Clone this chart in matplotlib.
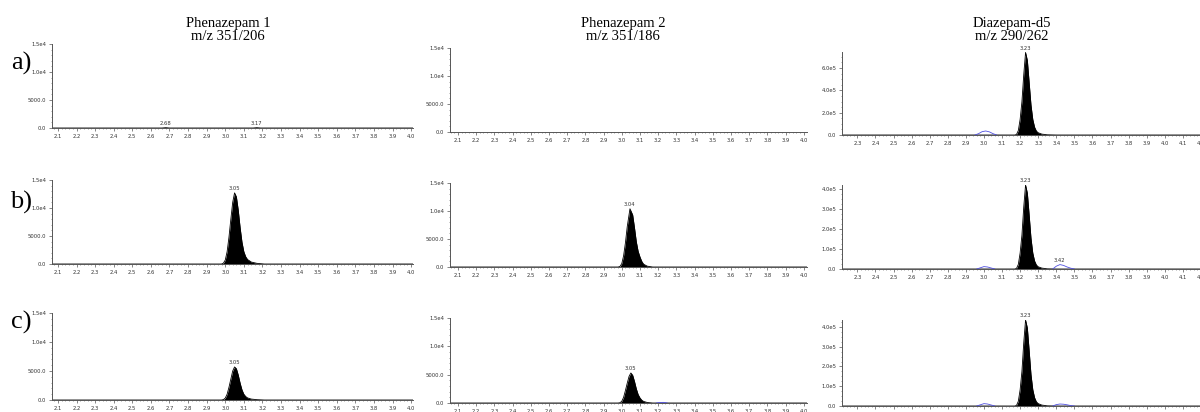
import matplotlib
matplotlib.use('Agg')
import matplotlib.pyplot as plt
from matplotlib.ticker import MultipleLocator, FixedLocator
import numpy as np

W, H = 1200, 412

titles = ['Phenazepam 1\nm/z 351/206', 'Phenazepam 2\nm/z 351/186', 'Diazepam-d5\nm/z 290/262']
row_labels = ['a)', 'b)', 'c)']

# Phenazepam 1 (m/z 351/206), retention time (min) / intensity
ph1_a_t = [2.05, 2.66, 2.68, 2.70, 3.15, 3.17, 3.19, 4.05]
ph1_a_y = [0, 0, 60, 0, 0, 60, 0, 0]
ph1_b_t = [2.05, 2.98, 2.99, 3.00, 3.01, 3.02, 3.03, 3.04, 3.05, 3.06, 3.07, 3.08, 3.09, 3.10, 3.11, 3.12, 3.14, 3.17, 3.21, 4.05]
ph1_b_y = [0, 0, 150, 700, 2200, 4800, 8000, 11000, 12700, 12000, 9600, 6500, 3900, 2200, 1300, 800, 350, 120, 0, 0]
ph1_c_t = ph1_b_t
ph1_c_y = [0, 0, 70, 320, 1000, 2200, 3600, 5000, 5700, 5400, 4300, 2900, 1750, 1000, 600, 360, 160, 60, 0, 0]

# Phenazepam 2 (m/z 351/186)
ph2_a_t = [2.05, 4.05]
ph2_a_y = [0, 0]
ph2_b_t = [2.05, 2.98, 2.99, 3.00, 3.01, 3.02, 3.03, 3.045, 3.06, 3.07, 3.08, 3.09, 3.10, 3.11, 3.12, 3.14, 3.17, 4.05]
ph2_b_y = [0, 0, 100, 600, 2000, 4300, 7200, 10400, 9300, 7000, 4500, 2800, 1800, 1000, 500, 150, 0, 0]
ph2_c_t = [2.05, 2.98, 2.99, 3.00, 3.01, 3.02, 3.03, 3.04, 3.05, 3.06, 3.07, 3.08, 3.09, 3.10, 3.11, 3.12, 3.14, 3.17, 4.05]
ph2_c_y = [0, 0, 50, 300, 1000, 2200, 3500, 4700, 5300, 4900, 3800, 2500, 1500, 900, 500, 280, 90, 0, 0]
ph2_c_blue_t = [3.19, 3.21, 3.23, 3.25]
ph2_c_blue_y = [0, 90, 110, 0]

# Diazepam-d5 (m/z 290/262)
dz_t = [2.2, 3.17, 3.18, 3.19, 3.20, 3.21, 3.22, 3.23, 3.24, 3.25, 3.26, 3.27, 3.28, 3.29, 3.30, 3.32, 3.35, 3.40, 4.3]
dz_a_y = [0, 0, 5e3, 4e4, 1.4e5, 3.0e5, 5.4e5, 7.4e5, 6.7e5, 4.7e5, 2.7e5, 1.4e5, 7e4, 3.5e4, 2e4, 8e3, 2e3, 0, 0]
dz_b_y = [0, 0, 3e3, 2.3e4, 8e4, 1.7e5, 3.1e5, 4.2e5, 3.8e5, 2.7e5, 1.55e5, 8e4, 4e4, 2e4, 1.1e4, 4.5e3, 1e3, 0, 0]
dz_c_y = [0, 0, 3e3, 2.4e4, 8.2e4, 1.76e5, 3.2e5, 4.35e5, 3.95e5, 2.8e5, 1.6e5, 8.3e4, 4.2e4, 2.1e4, 1.2e4, 4.7e3, 1e3, 0, 0]
# second trace (blue), nan splits the separate bumps
dz_a_blue_t = [2.95, 2.97, 2.99, 3.01, 3.03, 3.05, 3.07]
dz_a_blue_y = [0, 1.2e4, 3.0e4, 3.6e4, 2.8e4, 1.2e4, 0]
dz_b_blue_t = [2.96, 2.98, 3.00, 3.02, 3.04, 3.06, 3.2, 3.38, 3.40, 3.42, 3.44, 3.46, 3.48, 3.50]
dz_b_blue_y = [0, 6e3, 1.2e4, 1.0e4, 5e3, 0, np.nan, 0, 1.4e4, 2.2e4, 1.8e4, 1.0e4, 4e3, 0]
dz_c_blue_y = [0, 6e3, 1.2e4, 1.0e4, 5e3, 0, np.nan, 0, 7e3, 1.0e4, 9e3, 6e3, 2e3, 0]

# peak labels (time, text) per panel
labels = {
    (0, 0): [(2.68, '2.68'), (3.17, '3.17')],
    (1, 0): [(3.05, '3.05')],
    (2, 0): [(3.05, '3.05')],
    (1, 1): [(3.04, '3.04')],
    (2, 1): [(3.05, '3.05')],
    (0, 2): [(3.23, '3.23')],
    (1, 2): [(3.23, '3.23'), (3.42, '3.42')],
    (2, 2): [(3.23, '3.23')],
}

black = {
    (0, 0): (ph1_a_t, ph1_a_y), (1, 0): (ph1_b_t, ph1_b_y), (2, 0): (ph1_c_t, ph1_c_y),
    (0, 1): (ph2_a_t, ph2_a_y), (1, 1): (ph2_b_t, ph2_b_y), (2, 1): (ph2_c_t, ph2_c_y),
    (0, 2): (dz_t, dz_a_y), (1, 2): (dz_t, dz_b_y), (2, 2): (dz_t, dz_c_y),
}
blue = {
    (2, 1): (ph2_c_blue_t, ph2_c_blue_y),
    (0, 2): (dz_a_blue_t, dz_a_blue_y),
    (1, 2): (dz_b_blue_t, dz_b_blue_y),
    (2, 2): (dz_b_blue_t, dz_c_blue_y),
}

# column pixel extents and x limits
col_px = [(52, 413), (450, 807), (842, 1210)]
col_xlim = [(2.068, 4.01), (2.056, 4.018), (2.215, 4.25)]
# panel (top px, zero px, ymax)
row_px = {
    (0, 0): (44, 128, 1.5e4), (0, 1): (48, 132, 1.5e4), (0, 2): (52, 135, 7.44e5),
    (1, 0): (180, 264, 1.5e4), (1, 1): (183, 267, 1.5e4), (1, 2): (185, 269, 4.2e5),
    (2, 0): (313, 400, 1.5e4), (2, 1): (318, 403, 1.5e4), (2, 2): (320, 406, 4.35e5),
}

fig = plt.figure(figsize=(W / 100, H / 100), dpi=100)
fig.patch.set_facecolor('white')

axis_col = '#555555'
for (r, c), (top, zero, ymax) in row_px.items():
    x0, x1 = col_px[c]
    ax = fig.add_axes([x0 / W, 1 - zero / H, (x1 - x0) / W, (zero - top) / H])
    ax.set_xlim(col_xlim[c])
    ax.set_ylim(0, ymax)
    ax.patch.set_alpha(0)
    for s in ['top', 'right']:
        ax.spines[s].set_visible(False)
    for s in ['left', 'bottom']:
        ax.spines[s].set_color(axis_col)
        ax.spines[s].set_linewidth(0.7)

    t, y = black[(r, c)]
    ax.fill_between(t, y, color='black', lw=0)
    ax.plot(t, y, color='black', lw=0.6)
    if (r, c) in blue:
        bt, by = blue[(r, c)]
        ax.plot(bt, by, color='#5050e0', lw=0.6)

    for pt, txt in labels.get((r, c), []):
        ymax_here = max([yy for tt, yy in zip(t, y) if abs(tt - pt) < 0.03] + [0])
        if txt == '3.42':
            bt, by = blue[(r, c)]
            ymax_here = np.nanmax(by)
        ax.text(pt, ymax_here + ymax * 0.02, txt, ha='center', va='bottom',
                fontsize=3.8, color='#333333')

    # ticks
    xt = np.round(np.arange(2.1, col_xlim[c][1] + 0.001, 0.1), 1)
    if c == 2:
        xt = np.round(np.arange(2.3, 4.25, 0.1), 1)
    ax.xaxis.set_major_locator(FixedLocator(xt))
    ax.set_xticklabels(['%.1f' % v for v in xt])
    ax.xaxis.set_minor_locator(MultipleLocator(0.02))
    if c < 2:
        yt = [0, 5000, 10000, 15000]
        ylab = ['0.0', '5000.0', '1.0e4', '1.5e4']
        ax.yaxis.set_minor_locator(MultipleLocator(1000))
    elif r == 0:
        yt = [0, 2e5, 4e5, 6e5]
        ylab = ['0.0', '2.0e5', '4.0e5', '6.0e5']
        ax.yaxis.set_minor_locator(MultipleLocator(5e4))
    else:
        yt = [0, 1e5, 2e5, 3e5, 4e5]
        ylab = ['0.0', '1.0e5', '2.0e5', '3.0e5', '4.0e5']
        ax.yaxis.set_minor_locator(MultipleLocator(2.5e4))
    ax.set_yticks(yt)
    ax.set_yticklabels(ylab)
    ax.tick_params(axis='both', which='major', labelsize=3.8, labelcolor='#333333',
                   length=2, width=0.5, color=axis_col, pad=2)
    ax.tick_params(axis='both', which='minor', length=1, width=0.4, color=axis_col)

# column titles
title_x = [228, 623, 1012]
for c in range(3):
    fig.text(title_x[c] / W, 1 - 30 / H, titles[c], ha='center', va='center',
             family='Liberation Serif', fontsize=10.5, linespacing=0.95)

# row labels
row_y = [63, 202, 322]
for r in range(3):
    fig.text(21 / W, 1 - row_y[r] / H, row_labels[r], ha='center', va='center',
             family='Liberation Serif', fontsize=19)

fig.savefig('out.png', dpi=100)
